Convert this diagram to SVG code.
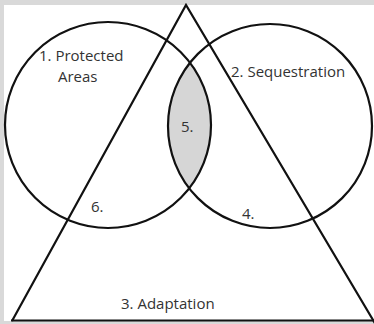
<svg xmlns="http://www.w3.org/2000/svg" width="374" height="324" viewBox="0 0 374 324">
<style>
.ln{fill:none;stroke:#111;stroke-width:2.2;stroke-linejoin:miter}
.t{font-family:"Open Sans","Noto Sans",sans-serif;font-size:15px;fill:#333}
</style>
<rect width="374" height="324" fill="#d9d9d9"/>
<rect x="4" y="5" width="370" height="316" fill="#fff"/>
<g id="lens">
<path d="M190.02 62.69 A102 102 0 0 0 189.25 188.31 A103 103 0 0 0 190.02 62.69 Z" fill="#d6d6d6"/>
</g>
<g id="protected-areas">
<circle class="ln" cx="108" cy="125" r="103"/>
<text class="t" x="39" y="61">1. Protected</text>
<text class="t" x="58" y="82">Areas</text>
</g>
<g id="sequestration">
<circle class="ln" cx="270" cy="126" r="102"/>
<text class="t" x="231" y="77">2. Sequestration</text>
</g>
<g id="adaptation">
<path class="ln" d="M12 321 L186 5 L376 325"/>
<line class="ln" x1="11" y1="320.5" x2="374" y2="320.5"/>
<text class="t" x="121" y="309">3. Adaptation</text>
</g>
<g id="labels">
<text class="t" x="181" y="132">5.</text>
<text class="t" x="91" y="212">6.</text>
<text class="t" x="242" y="219">4.</text>
</g>
</svg>
